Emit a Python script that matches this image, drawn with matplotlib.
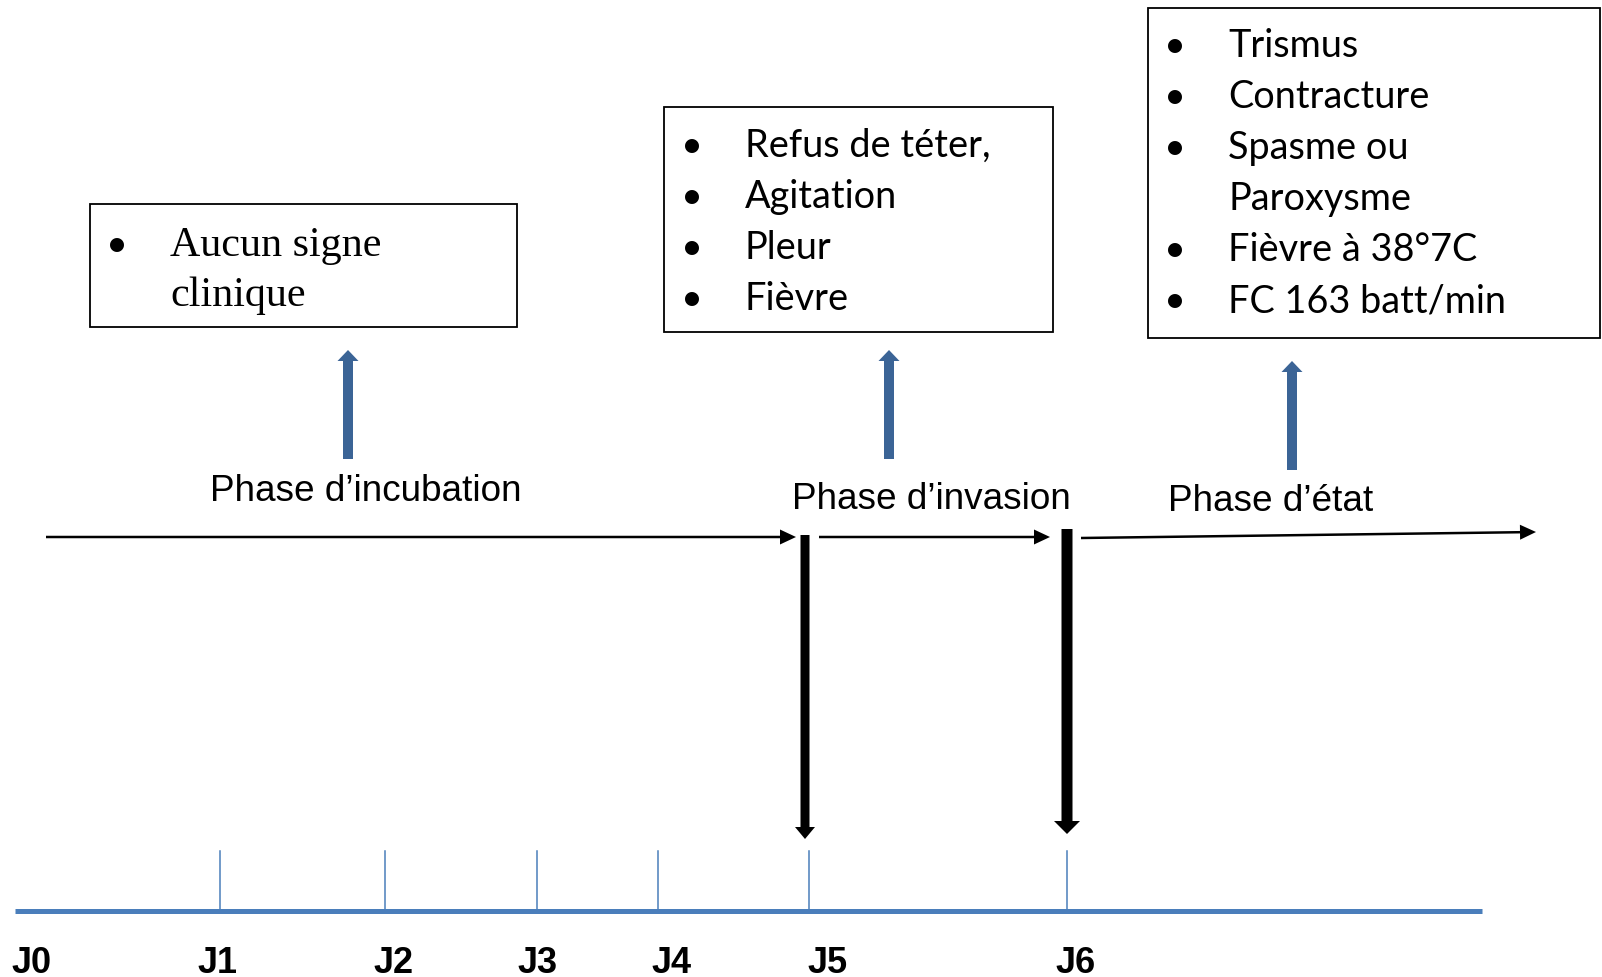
import matplotlib
matplotlib.use("Agg")
import matplotlib.pyplot as plt
from matplotlib.patches import Rectangle
from matplotlib.textpath import TextPath
from matplotlib.font_manager import FontProperties

# timeline days (pixel positions)
day_labels = ["J0", "J1", "J2", "J3", "J4", "J5", "J6"]
tick_x = [None, 220, 385, 537, 658, 809, 1067]
label_x = [12, 197, 374, 518, 652, 807, 1055]

# phases
phase_names = ["Phase d\u2019incubation", "Phase d\u2019invasion", "Phase d\u2019\u00e9tat"]
phase_text_x = [210, 792, 1168]
phase_text_y = [501, 509, 511]

# boxes of clinical signs
box1_lines = ["Aucun signe", "clinique"]
box1_bullets = [True, False]
box2_lines = ["Refus de t\u00e9ter,", "Agitation", "Pleur", "Fi\u00e8vre"]
box2_bullets = [True, True, True, True]
box3_lines = ["Trismus", "Contracture", "Spasme ou", "Paroxysme",
              "Fi\u00e8vre \u00e0 38\u00b07C", "FC 163 batt/min"]
box3_bullets = [True, True, True, False, True, True]

W, H, DPI = 1602, 978, 100
fig = plt.figure(figsize=(W / DPI, H / DPI), dpi=DPI)
ax = fig.add_axes([0, 0, 1, 1])
ax.set_xlim(0, W)
ax.set_ylim(H, 0)
ax.axis("off")


def fit_size(text, family, target_px, weight="normal"):
    # font size (pt) so the text ink spans target_px
    tp = TextPath((0, 0), text, size=100, prop=FontProperties(family=family, weight=weight))
    w = tp.get_extents().width
    return target_px / (w / 100) * 72 / DPI


sans_size = fit_size("FC 163 batt/min", "Lato", 272)
serif_size = fit_size("Aucun signe", "Liberation Serif", 210)
arial_size = fit_size(phase_names[0], "Liberation Sans", 306)


def draw_box(x0, y0, x1, y1, lines, bullets, text_x, bullet_x, base0, step, family, size):
    ax.add_patch(Rectangle((x0, y0), x1 - x0, y1 - y0, fill=False, ec="black", lw=1.3))
    for i, (s, b) in enumerate(zip(lines, bullets)):
        y = base0 + i * step
        ax.text(text_x, y, s, family=family, fontsize=size, va="baseline", ha="left")
        if b:
            # bullets are the same round dot in every box
            ax.text(bullet_x, y, "\u2022", family="Lato", fontsize=sans_size,
                    va="baseline", ha="center")


draw_box(90, 205, 517, 328, box1_lines, box1_bullets, 170, 117, 256, 50, "Liberation Serif", serif_size)
draw_box(664, 108, 1053, 333, box2_lines, box2_bullets, 745, 692, 157, 51, "Lato", sans_size)
draw_box(1148, 9, 1600, 339, box3_lines, box3_bullets, 1228, 1175, 57, 51, "Lato", sans_size)

# blue arrows pointing to the boxes
blue = "#3b6496"
for x, yb, yt in [(348, 460, 351), (889, 460, 351), (1292, 471, 362)]:
    ax.arrow(x, yb, 0, yt - yb, width=10, head_width=21, head_length=11,
             length_includes_head=True, fc=blue, ec=blue, lw=0)

# phase labels
for name, x, y in zip(phase_names, phase_text_x, phase_text_y):
    ax.text(x, y, name, family="Liberation Sans", fontsize=arial_size, va="baseline", ha="left")

# thin horizontal arrows
for (xa, ya), (xb, yb) in [((46, 538), (796, 538)), ((819, 538), (1050, 538)),
                           ((1081, 539), (1536, 533))]:
    ax.arrow(xa, ya, xb - xa, yb - ya, width=2.5, head_width=15, head_length=16,
             length_includes_head=True, fc="black", ec="black", lw=0)

# thick vertical arrows down to J5 and J6
for x, yt, yb, w, hw, hl in [(805, 536, 840, 9, 20, 12), (1067, 530, 835, 11, 26, 13)]:
    ax.arrow(x, yt, 0, yb - yt, width=w, head_width=hw, head_length=hl,
             length_includes_head=True, fc="black", ec="black", lw=0)

# time axis
axis_blue = "#4a7ebb"
ax.plot([15, 1482], [912, 912], color=axis_blue, lw=5 * 72 / DPI, solid_capstyle="butt")
for tx in tick_x:
    if tx is not None:
        ax.plot([tx, tx], [852, 912], color=axis_blue, lw=1.1)

for lab, lx in zip(day_labels, label_x):
    ax.text(lx, 973, lab, family=["Liberation Sans Narrow", "Liberation Sans"], weight="bold",
            fontsize=26, va="baseline", ha="left")

fig.savefig("out.png", dpi=DPI)
